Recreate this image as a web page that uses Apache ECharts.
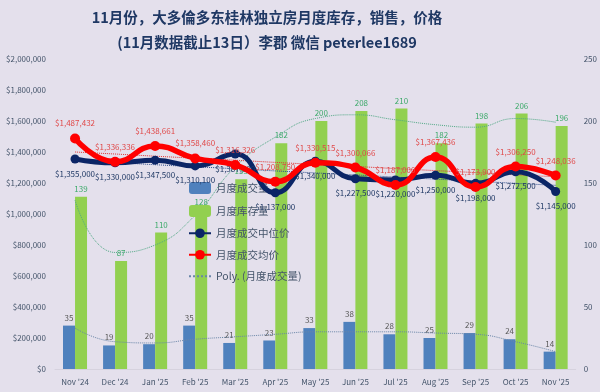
<!DOCTYPE html>
<html>
<head>
<meta charset="utf-8">
<script src="https://cdn.jsdelivr.net/npm/echarts@6/dist/echarts.min.js"></script>
<style>
html,body{margin:0;padding:0;background:#e4e0ec;}
#c{width:600px;height:392px;}
</style>
</head>
<body>
<div id="c"></div>
<script>
const categories = ["Nov '24","Dec '24","Jan '25","Feb '25","Mar '25","Apr '25","May '25","Jun '25","Jul '25","Aug '25","Sep '25","Oct '25","Nov '25"];
const sales = [35,19,20,35,21,23,33,38,28,25,29,24,14];
const inventory = [139,87,110,128,153,182,200,208,210,182,198,206,196];
const medianPrice = [1355000,1330000,1347500,1310100,1387000,1137000,1340000,1227500,1220000,1250000,1198000,1272500,1145000];
const avgPrice = [1487432,1336336,1438661,1358460,1316326,1208750,1330515,1300066,1187000,1367436,1173900,1306250,1248036];
const salesTrend = [33,22,21,24,26,28,30,30,30,29,28,22,14];
const inventoryTrend = [136,94,100,124,163,187,202,205,201,197,195,202,199];
const avgTrend = [1400000,1387000,1373000,1360000,1347000,1333000,1320000,1307000,1293000,1280000,1267000,1253000,1240000];
const medianTrend = [1345000,1332000,1318000,1305000,1292000,1278000,1265000,1252000,1238000,1225000,1212000,1198000,1185000];
const leftTicks = {min:0,max:2000000,interval:200000};
const rightTicks = {min:0,max:250,interval:50};

const money = v => '$' + Math.round(v).toString().replace(/\B(?=(\d{3})+(?!\d))/g, ',');
const FONT = '"Noto Sans CJK SC","Noto Sans",sans-serif';
const axisLabelColor = '#44546a';

const chart = echarts.init(document.getElementById('c'));
chart.setOption({
  backgroundColor: '#e4e0ec',
  animation: false,
  textStyle: {fontFamily: FONT},
  title: [{
    text: '11月份，大多倫多东桂林独立房月度库存，销售，价格\n(11月数据截止13日）李郡 微信 peterlee1689',
    left: 262, top: 0, textAlign: 'center',
    textStyle: {fontSize: 14.5, fontWeight: 'bold', color: '#1f3864', lineHeight: 25, fontFamily: FONT}
  }],
  legend: {
    orient: 'vertical', left: 183, top: 177, itemGap: 11, itemWidth: 22, itemHeight: 12,
    data: ['月度成交量','月度库存量','月度成交中位价','月度成交均价',
      {name: 'Poly. (月度成交量)', itemStyle: {opacity: 0}}],
    textStyle: {fontSize: 10.5, color: '#44546a', fontFamily: FONT}
  },
  grid: {left: 55, right: 23, top: 59, bottom: 23},
  xAxis: {
    type: 'category', data: categories,
    axisLine: {show: true, lineStyle: {color: '#d6d2de'}},
    axisTick: {show: false},
    axisLabel: {fontSize: 8, color: axisLabelColor, margin: 9, fontFamily: FONT}
  },
  yAxis: [{
    type: 'value', min: leftTicks.min, max: leftTicks.max, interval: leftTicks.interval,
    splitLine: {show: false},
    axisLabel: {fontSize: 8, color: axisLabelColor, margin: 9, formatter: money, fontFamily: FONT}
  },{
    type: 'value', min: rightTicks.min, max: rightTicks.max, interval: rightTicks.interval,
    splitLine: {show: false},
    axisLabel: {fontSize: 8, color: axisLabelColor, margin: 8, fontFamily: FONT}
  }],
  series: [
    {
      name: '月度成交量', type: 'bar', yAxisIndex: 1, data: sales, barWidth: 12, barGap: '0%',
      itemStyle: {color: '#4f81bd'},
      label: {show: true, position: 'top', fontSize: 8, color: '#595959', distance: 4}
    },
    {
      name: '月度库存量', type: 'bar', yAxisIndex: 1, data: inventory, barWidth: 12,
      itemStyle: {color: '#92d050'},
      label: {show: true, position: 'top', fontSize: 8, color: '#3daa6a', distance: 4}
    },
    {
      name: 'Poly. (月度成交量)', type: 'line', yAxisIndex: 1, data: salesTrend, smooth: true,
      showSymbol: false, symbol: 'none', z: 3,
      itemStyle: {color: '#6a86a8'},
      lineStyle: {color: '#6a86a8', width: 1, type: 'dotted'}
    },
    {
      name: 'invTrend', type: 'line', yAxisIndex: 1, data: inventoryTrend, smooth: true,
      showSymbol: false, symbol: 'none', z: 3,
      lineStyle: {color: '#4fa884', width: 1, type: 'dotted'}
    },
    {
      name: 'avgTrend', type: 'line', yAxisIndex: 0, data: avgTrend, smooth: true,
      showSymbol: false, symbol: 'none', z: 3,
      lineStyle: {color: '#e03030', width: 1, type: 'dotted'}
    },
    {
      name: 'medTrend', type: 'line', yAxisIndex: 0, data: medianTrend, smooth: true,
      showSymbol: false, symbol: 'none', z: 3,
      lineStyle: {color: '#2a4a8a', width: 1, type: 'dotted'}
    },
    {
      name: '月度成交中位价', type: 'line', yAxisIndex: 0, data: medianPrice, smooth: true,
      symbol: 'circle', symbolSize: 9, z: 5,
      lineStyle: {color: '#0b2566', width: 5},
      itemStyle: {color: '#0b2566'},
      label: {show: true, position: 'bottom', distance: 6, fontSize: 8, color: '#1f3864', formatter: p => money(p.value)}
    },
    {
      name: '月度成交均价', type: 'line', yAxisIndex: 0, data: avgPrice, smooth: true,
      symbol: 'circle', symbolSize: 10, z: 6,
      lineStyle: {color: '#ff0000', width: 5.5},
      itemStyle: {color: '#ff0000'},
      label: {show: true, position: 'top', distance: 6, fontSize: 8, color: '#e04848', formatter: p => money(p.value)}
    }
  ]
});
</script>
</body>
</html>
